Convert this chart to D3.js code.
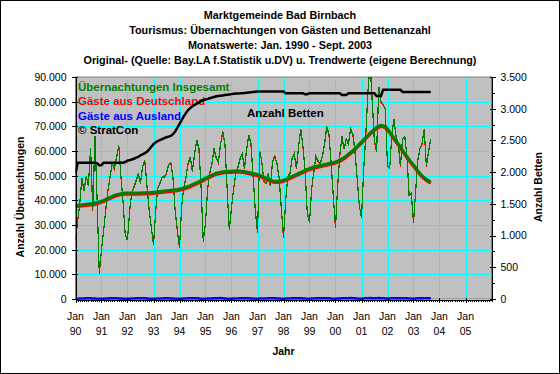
<!DOCTYPE html>
<html><head><meta charset="utf-8">
<script src="https://cdn.jsdelivr.net/npm/d3@7"></script>
<style>
html,body{margin:0;padding:0;background:#fff;}
svg{display:block;font-family:"Liberation Sans",Arial,sans-serif;}
</style></head><body>
<svg id="chart" width="560" height="374"></svg>
<script>
// ---------- DATA ----------
const titleLines = [
  "Marktgemeinde Bad Birnbach",
  "Tourismus: Übernachtungen von Gästen und Bettenanzahl",
  "Monatswerte: Jan. 1990 - Sept. 2003",
  "Original- (Quelle: Bay.LA f.Statistik u.DV) u. Trendwerte (eigene Berechnung)"
];
const seriesNames = ["Übernachtungen Insgesamt", "Gäste aus Deutschland", "Gäste aus Ausland", "© StratCon"];
const bettenLabel = "Anzahl Betten";
const firstYear = 1990; // monthly values from Jan 1990 to Sept 2003

const insgesamt = [
 23800,32000,38500,49000,44000,50000,46000,61000,36000,66000,40000,10500,
 20000,28000,36000,44000,49500,55000,53000,57500,62500,50000,39000,26000,
 24000,36000,43000,45500,48000,51000,47000,54000,56000,46000,36000,29000,
 22000,36000,45000,47000,49500,49500,51000,54500,55500,49500,36000,28000,
 21000,38000,45000,49500,55000,57500,52000,59000,64500,61000,45000,23500,
 31000,45000,51000,55000,61000,57500,55500,63000,68000,63000,45000,28000,
 37000,45000,51000,53500,57000,59000,53000,61000,66500,63000,49500,36000,
 27000,60000,56000,48000,47000,51000,46000,56000,58000,55000,49000,37000,
 25000,40000,49500,51000,57000,59000,53000,62000,69000,62000,52000,35000,
 31000,45000,51000,58000,56000,55000,58000,63000,70000,67000,55000,42000,
 29000,46000,58000,66000,61000,65000,63000,69000,67000,60000,49000,38000,
 33000,53000,66000,84000,96000,80000,64000,60000,86000,80000,79000,77000,
 54000,53000,66000,73000,66000,63000,54000,65000,66000,58000,42000,43000,
 31000,44000,56000,61000,63000,69000,54000,60000,65000
];
const deutschland = [
 23600,31800,38300,48700,43700,49700,45700,60700,35700,65700,39800,10300,
 19800,27800,35800,43700,49200,54700,52700,57200,62200,49700,38800,25800,
 23800,35800,42800,45200,47700,50700,46700,53700,55700,45700,35800,28800,
 21800,35800,44800,46700,49200,49200,50700,54200,55200,49200,35800,27800,
 20800,37800,44800,49200,54700,57200,51700,58700,64200,60700,44800,23300,
 30800,44800,50800,54700,60700,57200,55200,62700,67700,62700,44800,27800,
 36800,44800,50800,53200,56700,58700,52700,60700,66200,62700,49300,35800,
 26800,59800,55800,47700,46700,50700,45700,55700,57700,54700,48800,36800,
 24800,39800,49300,50700,56700,58700,52700,61700,68700,61700,51800,34800,
 30800,44800,50800,57700,55700,54700,57700,62700,69700,66700,54800,41800,
 28800,45800,57800,65700,60700,64700,62700,68700,66700,59700,48800,37800,
 32800,52800,65800,83700,95700,79700,63700,59700,85700,79700,78800,76800,
 53800,52800,65800,72700,65700,62700,53700,64700,65700,57700,41800,42800,
 30800,43800,55800,60700,62700,68700,53700,59700,64700
];
const ausland = [
 100,100,200,200,200,300,300,300,200,200,100,100,
 100,100,200,200,300,300,300,300,200,200,100,100,
 100,100,200,200,300,300,300,300,300,200,100,100,
 100,100,200,200,200,300,300,300,200,200,100,100,
 100,100,200,200,300,300,300,300,300,200,100,100,
 100,200,200,200,300,300,300,400,300,200,100,100,
 100,200,200,200,300,300,300,300,300,200,200,100,
 100,200,200,200,200,300,300,300,300,200,200,100,
 100,200,200,200,300,300,300,300,300,200,200,100,
 100,200,200,300,300,300,300,300,300,300,200,100,
 100,200,200,300,300,300,300,400,300,300,200,100,
 100,200,300,300,400,300,300,300,400,300,300,200,
 200,200,300,300,300,300,300,300,300,300,200,200,
 100,200,300,300,300,300,300,300,300
];
const trendInsgesamt = [
 38000,38000,38100,38200,38300,38400,38500,38600,38700,38900,39100,39400,
 39700,40000,40400,40800,41200,41600,42000,42300,42500,42700,42900,43000,
 43000,43000,43000,43000,43000,43000,43000,43100,43100,43100,43100,43200,
 43300,43400,43500,43600,43700,43800,43900,44000,44100,44200,44300,44400,
 44600,44800,45000,45300,45600,46000,46400,46800,47200,47600,48000,48500,
 49000,49400,49800,50200,50600,51000,51200,51400,51600,51700,51800,51800,
 51800,51900,51900,51900,51900,51800,51700,51500,51300,51100,50900,50700,
 50500,50200,49800,49400,49000,48600,48200,47900,47700,47700,47800,47900,
 48200,48500,48900,49300,49700,50100,50500,50900,51300,51700,52100,52500,
 52900,53200,53500,53700,53900,54100,54300,54500,54700,54900,55100,55300,
 55600,55900,56300,56800,57400,58000,58700,59400,60200,61000,61900,62800,
 63700,64600,65500,66400,67300,68100,68900,69600,70100,70400,70300,69900,
 68900,67800,66600,65300,64100,62900,61600,60300,59000,57800,56600,55400,
 54300,53200,52100,51000,50000,49200,48500,47900,47400
];
const trendDeutschland = [
 37500,37500,37600,37700,37800,37900,38000,38100,38200,38400,38600,38900,
 39200,39500,39900,40300,40700,41100,41500,41800,42000,42200,42400,42500,
 42500,42500,42500,42500,42500,42500,42500,42600,42600,42600,42600,42700,
 42800,42900,43000,43100,43200,43300,43400,43500,43600,43700,43800,43900,
 44100,44300,44500,44800,45100,45500,45900,46300,46700,47100,47500,48000,
 48500,48900,49300,49700,50100,50500,50700,50900,51100,51200,51300,51300,
 51300,51400,51400,51400,51400,51300,51200,51000,50800,50600,50400,50200,
 50000,49700,49300,48900,48500,48100,47700,47400,47200,47200,47300,47400,
 47700,48000,48400,48800,49200,49600,50000,50400,50800,51200,51600,52000,
 52400,52700,53000,53200,53400,53600,53800,54000,54200,54400,54600,54800,
 55100,55400,55800,56300,56900,57500,58200,58900,59700,60500,61400,62300,
 63200,64100,65000,65900,66800,67600,68400,69100,69600,69900,69800,69400,
 68400,67300,66100,64800,63600,62400,61100,59800,58500,57300,56100,54900,
 53800,52700,51600,50500,49500,48700,48000,47400,46900
];
const betten = [
 1980,2150,2150,2150,2150,2150,2150,2150,2150,2150,2140,2110,
 2110,2150,2150,2150,2150,2150,2150,2150,2150,2150,2150,2160,
 2180,2190,2200,2210,2230,2240,2265,2280,2300,2320,2360,2400,
 2440,2470,2490,2505,2520,2535,2550,2560,2570,2600,2640,2700,
 2760,2820,2880,2930,2980,3010,3040,3060,3080,3100,3120,3135,
 3145,3155,3165,3175,3185,3195,3200,3205,3210,3215,3220,3225,
 3230,3235,3238,3240,3242,3245,3248,3250,3255,3260,3265,3268,
 3270,3270,3270,3270,3270,3270,3270,3270,3270,3270,3270,3270,
 3270,3245,3245,3245,3245,3245,3245,3245,3245,3245,3230,3230,
 3245,3245,3245,3245,3245,3245,3245,3245,3245,3245,3245,3245,
 3245,3245,3245,3215,3215,3215,3245,3245,3245,3245,3245,3245,
 3245,3245,3245,3245,3245,3245,3245,3200,3200,3200,3300,3300,
 3300,3300,3300,3300,3300,3300,3300,3265,3265,3265,3265,3265,
 3265,3265,3265,3265,3265,3265,3265,3265,3265
];
const leftTicks = [0,10000,20000,30000,40000,50000,60000,70000,80000,90000];
const rightTicks = [0,500,1000,1500,2000,2500,3000,3500];
const rightMinorTicks = [250,750,1250,1750,2250,2750,3250];
const yearLabels = ["90","91","92","93","94","95","96","97","98","99","00","01","02","03","04","05"];
const monthLabel = "Jan";
const leftTitle = "Anzahl Übernachtungen";
const rightTitle = "Anzahl Betten";
const xTitle = "Jahr";

// ---------- LAYOUT ----------
const W = 560, H = 374;
const L = 75.5, R = 491.5, T = 77, B = 299;
const svg = d3.select("#chart");
const deLocale = d3.formatLocale({decimal: ",", thousands: ".", grouping: [3], currency: ["", "€"]});
const fmt = deLocale.format(",");

const dateOf = i => new Date(firstYear, i, 1);
const x = d3.scaleTime().domain([new Date(1990,0,1), new Date(2006,0,1)]).range([L, R]);
const yL = d3.scaleLinear().domain([0, 90000]).range([B, T]);
const yR = d3.scaleLinear().domain([0, 3500]).range([B, T]);
const yearDates = yearLabels.map((d, i) => new Date(1990 + i, 0, 1));
const monthDates = d3.timeMonths(new Date(1990,0,1), new Date(2006,0,2));

// outer frame
svg.append("rect").attr("x",0.5).attr("y",0.5).attr("width",W-1).attr("height",H-1)
  .attr("fill","#fff").attr("stroke","#000");

// plot background
svg.append("rect").attr("x",L).attr("y",T).attr("width",R-L).attr("height",B-T)
  .attr("fill","#C0C0C0").attr("stroke","#808080").attr("stroke-width",1);

// gridlines
const grid = svg.append("g").attr("stroke","#00FFFF").attr("stroke-width",1).attr("shape-rendering","crispEdges");
grid.selectAll("line.h").data(leftTicks.filter(v => v > 0 && v < 90000)).join("line")
  .attr("x1",L).attr("x2",R).attr("y1",d=>Math.round(yL(d))+0.5).attr("y2",d=>Math.round(yL(d))+0.5);
grid.selectAll("line.v").data(yearDates.slice(1)).join("line")
  .attr("x1",d=>Math.round(x(d))+0.5).attr("x2",d=>Math.round(x(d))+0.5).attr("y1",T).attr("y2",B);

// titles
svg.append("g").selectAll("text").data(titleLines).join("text")
  .attr("x",280).attr("y",(d,i)=>19+i*15).attr("text-anchor","middle")
  .attr("font-size","10.8px").attr("font-weight","bold").attr("fill","#000").text(d=>d);

// legend texts inside the plot
const legColors = ["#008000","#FF0000","#0000FF","#000000"];
svg.append("g").selectAll("text").data(seriesNames).join("text")
  .attr("x",78).attr("y",(d,i)=>90.5+i*14.5)
  .attr("font-size","11.5px").attr("font-weight","bold")
  .attr("fill",(d,i)=>legColors[i]).text(d=>d);
svg.append("text").attr("x",247).attr("y",116.5).attr("font-size","11.5px").attr("font-weight","bold")
  .attr("fill","#000").text(bettenLabel);

// clip
svg.append("clipPath").attr("id","clip").append("rect").attr("x",L).attr("y",T).attr("width",R-L).attr("height",B-T+2);
const plot = svg.append("g").attr("clip-path","url(#clip)");

const lineL = arr => d3.line().x((d,i)=>x(dateOf(i))).y(d=>yL(d))(arr);
const lineR = arr => d3.line().x((d,i)=>x(dateOf(i))).y(d=>yR(d))(arr);

plot.append("path").attr("d",lineL(deutschland)).attr("fill","none").attr("stroke","#FF0000")
  .attr("stroke-width",1.2).attr("shape-rendering","crispEdges");
plot.append("path").attr("d",lineL(insgesamt)).attr("fill","none").attr("stroke","#008000")
  .attr("stroke-width",1.2).attr("shape-rendering","crispEdges");
plot.append("path").attr("d",lineL(trendDeutschland)).attr("fill","none").attr("stroke","#FF0000").attr("stroke-width",3);
plot.append("path").attr("d",lineL(trendInsgesamt)).attr("fill","none").attr("stroke","#008000").attr("stroke-width",3);
plot.append("path").attr("d",lineR(betten)).attr("fill","none").attr("stroke","#000").attr("stroke-width",2.5);
plot.append("path").attr("d",lineL(ausland)).attr("fill","none").attr("stroke","#0000FF").attr("stroke-width",2.5);

// axes
const axisStyle = g => { g.selectAll("path,line").attr("stroke","#000").attr("shape-rendering","crispEdges");
  g.selectAll("text").attr("font-size","10.5px").attr("fill","#000").attr("font-family","Liberation Sans, Arial, sans-serif"); };

svg.append("g").attr("transform",`translate(${L},0)`)
  .call(d3.axisLeft(yL).tickValues(leftTicks).tickFormat(fmt).tickSize(4).tickSizeOuter(0).tickPadding(5))
  .call(axisStyle);
svg.append("g").attr("transform",`translate(${L},0)`)
  .call(d3.axisRight(yL).tickValues(leftTicks).tickFormat("").tickSize(2).tickSizeOuter(0))
  .call(axisStyle).select(".domain").remove();

svg.append("g").attr("transform",`translate(${R},0)`)
  .call(d3.axisRight(yR).tickValues(rightTicks).tickFormat(fmt).tickSize(4).tickSizeOuter(0).tickPadding(5))
  .call(axisStyle);
svg.append("g").attr("transform",`translate(${R},0)`)
  .call(d3.axisLeft(yR).tickValues(rightTicks).tickFormat("").tickSize(2).tickSizeOuter(0))
  .call(axisStyle).select(".domain").remove();
svg.append("g").attr("transform",`translate(${R},0)`)
  .call(d3.axisRight(yR).tickValues(rightMinorTicks).tickFormat("").tickSize(3).tickSizeOuter(0))
  .call(axisStyle).select(".domain").remove();

svg.append("g").attr("transform",`translate(0,${B+0.5})`)
  .call(d3.axisBottom(x).tickValues(monthDates).tickFormat("").tickSize(2).tickSizeOuter(0))
  .call(axisStyle);
svg.append("g").attr("transform",`translate(0,${B+0.5})`)
  .call(d3.axisBottom(x).tickValues(yearDates).tickFormat("").tickSize(3).tickSizeOuter(0))
  .call(axisStyle).select(".domain").remove();
svg.append("g").attr("transform",`translate(0,${B+0.5})`)
  .call(d3.axisTop(x).tickValues(yearDates).tickFormat("").tickSize(2).tickSizeOuter(0))
  .call(axisStyle).select(".domain").remove();

// x labels (two lines)
const xl = svg.append("g").attr("font-size","10.5px").attr("fill","#000").attr("text-anchor","middle");
xl.selectAll("text.m").data(yearDates).join("text").attr("x",d=>x(d)).attr("y",320).text(monthLabel);
xl.selectAll("text.y").data(yearLabels).join("text").attr("x",(d,i)=>x(yearDates[i])).attr("y",335).text(d=>d);

// axis titles
svg.append("text").attr("transform","translate(24,197) rotate(-90)").attr("text-anchor","middle")
  .attr("font-size","10.5px").attr("font-weight","bold").text(leftTitle);
svg.append("text").attr("transform","translate(542,187) rotate(-90)").attr("text-anchor","middle")
  .attr("font-size","10.5px").attr("font-weight","bold").text(rightTitle);
svg.append("text").attr("x",(L+R)/2).attr("y",355).attr("text-anchor","middle")
  .attr("font-size","10.5px").attr("font-weight","bold").text(xTitle);
</script>
</body></html>
